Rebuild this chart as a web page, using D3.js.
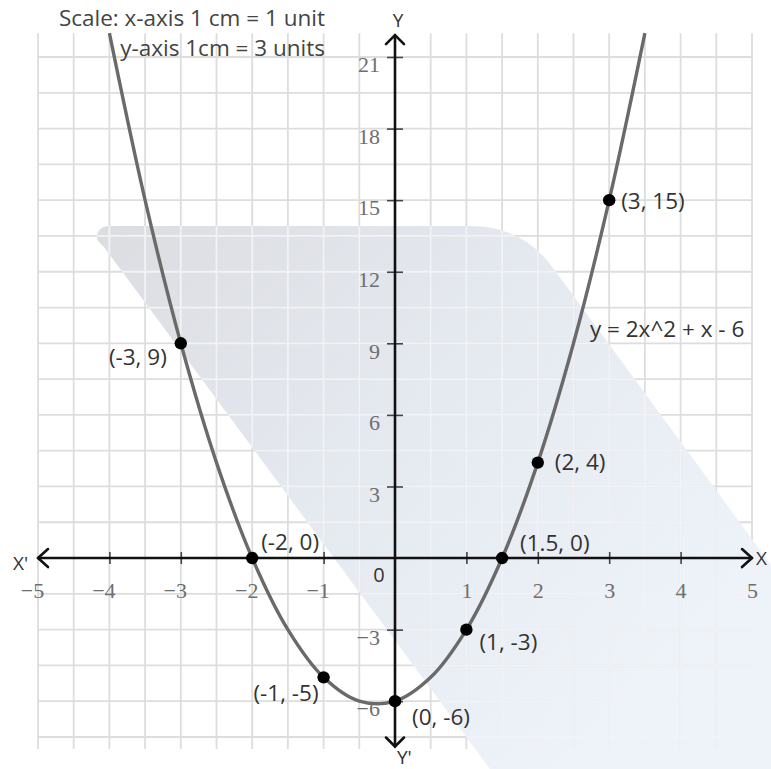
<!DOCTYPE html>
<html><head><meta charset="utf-8">
<script src="https://cdn.jsdelivr.net/npm/d3@7"></script>
<style>
html,body{margin:0;padding:0;background:#fff;}
svg{display:block;}
</style></head><body>
<svg id="chart" width="771" height="769"></svg>
<script>
// Graph of y = 2x^2 + x - 6, table of values at half-unit steps
const curveX = [-4, -3.5, -3, -2.5, -2, -1.5, -1, -0.5, 0, 0.5, 1, 1.5, 2, 2.5, 3, 3.5];
const curveY = [22, 15, 9, 4, 0, -3, -5, -6, -6, -5, -3, 0, 4, 9, 15, 22];

// Marked points
const pointX = [-3, -2, -1, 0, 1, 1.5, 2, 3];
const pointY = [9, 0, -5, -6, -3, 0, 4, 15];
const pointLabels = ["(-3, 9)", "(-2, 0)", "(-1, -5)", "(0, -6)", "(1, -3)", "(1.5, 0)", "(2, 4)", "(3, 15)"];

// Axis ticks
const xTicks = [-5, -4, -3, -2, -1, 1, 2, 3, 4, 5];
const yTicks = [-6, -3, 3, 6, 9, 12, 15, 18, 21];

const equationLabel = "y = 2x^2 + x - 6";
const scaleNote = ["Scale: x-axis 1 cm = 1 unit", "y-axis 1cm = 3 units"];

const svg = d3.select("#chart");

const x = d3.scaleLinear().domain([-5, 5]).range([38, 752]);
const y = d3.scaleLinear().domain([-7.5, 21]).range([737, 57]);

const sansFont = "'Open Sans', Lato, sans-serif";
const serifFont = "'Liberation Serif', 'DejaVu Serif', serif";
const textSize = 22.5;

// Soft background emblem
const defs = svg.append("defs");
const grad = defs.append("linearGradient").attr("id", "emblem")
  .attr("gradientUnits", "userSpaceOnUse")
  .attr("x1", 100).attr("y1", 230).attr("x2", 620).attr("y2", 720);
grad.append("stop").attr("offset", 0).attr("stop-color", "#dcdde1");
grad.append("stop").attr("offset", 0.45).attr("stop-color", "#e4e8ef");
grad.append("stop").attr("offset", 1).attr("stop-color", "#eef3fa");

const emblemPath = "M97,238 Q97,226 110,226 L470,226 Q525,226 556,272 L771,565 L771,769 L490,769 L104,247 Q97,241 97,238 Z";
defs.append("clipPath").attr("id", "emblemClip").append("path").attr("d", emblemPath);

svg.append("path").attr("d", emblemPath).attr("fill", "url(#emblem)");

// Grid: 0.5 unit in x, 1.5 units in y
const gridX = d3.range(-5, 5.001, 0.5);
const gridY = d3.range(-7.5, 21.001, 1.5);

function drawGrid(g, color) {
  g.selectAll("line.v").data(gridX).join("line").attr("class", "v")
    .attr("x1", d => x(d)).attr("x2", d => x(d))
    .attr("y1", y(22)).attr("y2", y(-8))
    .attr("stroke", color).attr("stroke-width", 1.8);
  g.selectAll("line.h").data(gridY).join("line").attr("class", "h")
    .attr("x1", x(-5)).attr("x2", x(5))
    .attr("y1", d => y(d)).attr("y2", d => y(d))
    .attr("stroke", color).attr("stroke-width", 1.8);
}
drawGrid(svg.append("g"), "#dddddd");
drawGrid(svg.append("g").attr("clip-path", "url(#emblemClip)"), "#f1f3f7");

// X axis
const xAxis = d3.axisBottom(x)
  .tickValues(xTicks)
  .tickSizeOuter(0)
  .tickFormat(d => d < 0 ? "\u2212" + Math.abs(d) : String(d));
const gx = svg.append("g").attr("transform", `translate(0,${y(0)})`).call(xAxis);
gx.select(".domain").remove();
gx.selectAll(".tick line")
  .attr("y1", -6).attr("y2", 6)
  .attr("stroke", "#444").attr("stroke-width", 1.6)
  .attr("display", d => Math.abs(d) === 5 ? "none" : null);
gx.selectAll(".tick text")
  .attr("y", 32).attr("dy", "0.35em")
  .attr("x", d => d < 0 ? -6 : 0)
  .attr("fill", "#6e6e6e")
  .attr("font-family", serifFont).attr("font-size", 22);

// Y axis
const yAxis = d3.axisLeft(y)
  .tickValues(yTicks)
  .tickSizeOuter(0)
  .tickFormat(d => d < 0 ? "\u2212" + Math.abs(d) : String(d));
const gy = svg.append("g").attr("transform", `translate(${x(0)},0)`).call(yAxis);
gy.select(".domain").remove();
gy.selectAll(".tick line")
  .attr("x1", -8).attr("x2", 8)
  .attr("stroke", "#444").attr("stroke-width", 1.6);
gy.selectAll(".tick text")
  .attr("x", -15).attr("y", 7).attr("dy", "0.35em")
  .attr("text-anchor", "end")
  .attr("fill", "#6e6e6e")
  .attr("font-family", serifFont).attr("font-size", 22);

// Axis lines with open arrowheads
const axisG = svg.append("g").attr("stroke", "#111").attr("fill", "none")
  .attr("stroke-width", 2.6).attr("stroke-linecap", "round").attr("stroke-linejoin", "round");
axisG.append("line").attr("x1", x(-5)).attr("x2", x(5)).attr("y1", y(0)).attr("y2", y(0));
axisG.append("line").attr("x1", x(0)).attr("x2", x(0)).attr("y1", y(22) + 2).attr("y2", y(-7.9));
const a = 9;
axisG.append("polyline").attr("points", `${x(-5)+a+1},${y(0)-a} ${x(-5)},${y(0)} ${x(-5)+a+1},${y(0)+a}`);
axisG.append("polyline").attr("points", `${x(5)-a-1},${y(0)-a} ${x(5)},${y(0)} ${x(5)-a-1},${y(0)+a}`);
axisG.append("polyline").attr("points", `${x(0)-a},${y(22)+a+2} ${x(0)},${y(22)+2} ${x(0)+a},${y(22)+a+2}`);
axisG.append("polyline").attr("points", `${x(0)-a},${y(-7.9)-a} ${x(0)},${y(-7.9)} ${x(0)+a},${y(-7.9)-a}`);

// Axis names
const nameG = svg.append("g").attr("font-family", sansFont).attr("font-size", 19).attr("fill", "#333");
nameG.append("text").attr("x", 13).attr("y", y(0) + 5).attr("dy", "0.35em").text("X'");
nameG.append("text").attr("x", 756).attr("y", y(0)).attr("dy", "0.35em").text("X");
nameG.append("text").attr("x", x(0) + 3).attr("y", 20).attr("dy", "0.35em").attr("text-anchor", "middle").text("Y");
nameG.append("text").attr("x", x(0) + 2).attr("y", 757).attr("dy", "0.35em").text("Y'");
nameG.append("text").attr("x", x(0) - 16).attr("y", y(0) + 17).attr("dy", "0.35em")
  .attr("text-anchor", "middle").attr("font-size", 20).text("0");

// Parabola
const line = d3.line()
  .x(d => x(d[0])).y(d => y(d[1]))
  .curve(d3.curveCatmullRom.alpha(0.5));
svg.append("path")
  .datum(d3.zip(curveX, curveY))
  .attr("d", line)
  .attr("fill", "none").attr("stroke", "#6a6a6a").attr("stroke-width", 3.4);

// Points and their coordinate labels
const labelPos = [
  { dx: -14, dy: 14, anchor: "end" },
  { dx: 9, dy: -16, anchor: "start" },
  { dx: -5, dy: 16, anchor: "end" },
  { dx: 17, dy: 16, anchor: "start" },
  { dx: 13, dy: 12, anchor: "start" },
  { dx: 18, dy: -15, anchor: "start" },
  { dx: 17, dy: 0, anchor: "start" },
  { dx: 12, dy: 1, anchor: "start" }
];
const pts = pointX.map((v, i) => ({ x: v, y: pointY[i], label: pointLabels[i], pos: labelPos[i] }));
svg.append("g").selectAll("circle").data(pts).join("circle")
  .attr("cx", d => x(d.x)).attr("cy", d => y(d.y)).attr("r", 6.2).attr("fill", "#000");
svg.append("g").selectAll("text").data(pts).join("text")
  .attr("x", d => x(d.x) + d.pos.dx)
  .attr("y", d => y(d.y) + d.pos.dy)
  .attr("dy", "0.35em")
  .attr("text-anchor", d => d.pos.anchor)
  .attr("font-family", sansFont).attr("font-size", textSize).attr("fill", "#333")
  .text(d => d.label);

// Equation
svg.append("text")
  .attr("x", x(2.73)).attr("y", y(9.6)).attr("dy", "0.35em")
  .attr("font-family", sansFont).attr("font-size", textSize).attr("fill", "#333")
  .text(equationLabel);

// Scale note
svg.append("g").selectAll("text").data(scaleNote).join("text")
  .attr("x", 325).attr("y", (d, i) => 18 + i * 30).attr("dy", "0.35em")
  .attr("text-anchor", "end")
  .attr("font-family", sansFont).attr("font-size", textSize).attr("fill", "#444")
  .text(d => d);
</script>
</body></html>
